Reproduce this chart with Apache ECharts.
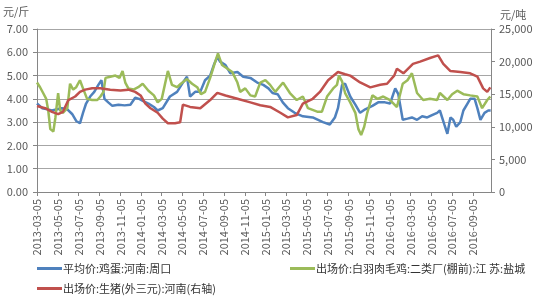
<!DOCTYPE html>
<html>
<head>
<meta charset="utf-8">
<script src="https://cdn.jsdelivr.net/npm/echarts@6/dist/echarts.min.js"></script>
<style>html,body{margin:0;padding:0;background:#fff}#c{width:550px;height:300px}</style>
</head>
<body>
<div id="c"></div>
<script>
const axisStart = '2013-03-05';
const axisEnd = '2016-10-27';
const tickLabels = ['2013-03-05','2013-05-05','2013-07-05','2013-09-05','2013-11-05','2014-01-05','2014-03-05','2014-05-05','2014-07-05','2014-09-05','2014-11-05','2015-01-05','2015-03-05','2015-05-05','2015-07-05','2015-09-05','2015-11-05','2016-01-05','2016-03-05','2016-05-05','2016-07-05','2016-09-05'];

const seriesNames = ['平均价:鸡蛋:河南:周口', '出场价:白羽肉毛鸡:二类厂(棚前):江 苏:盐城', '出场价:生猪(外三元):河南(右轴)'];

const eggDates = ['2013-03-05','2013-03-20','2013-04-05','2013-04-18','2013-05-03','2013-05-17','2013-06-02','2013-06-16','2013-06-28','2013-07-09','2013-07-18','2013-07-27','2013-08-08','2013-08-20','2013-09-01','2013-09-10','2013-09-19','2013-09-30','2013-10-12','2013-10-30','2013-11-17','2013-12-04','2013-12-18','2013-12-30','2014-01-11','2014-01-26','2014-02-11','2014-02-22','2014-03-09','2014-03-30','2014-04-20','2014-05-07','2014-05-19','2014-05-28','2014-06-12','2014-06-27','2014-07-11','2014-07-26','2014-08-07','2014-08-16','2014-08-24','2014-09-09','2014-09-23','2014-10-14','2014-10-31','2014-11-21','2014-12-11','2014-12-29','2015-01-13','2015-01-25','2015-02-09','2015-02-24','2015-03-11','2015-03-31','2015-04-24','2015-05-23','2015-06-22','2015-07-12','2015-07-27','2015-08-05','2015-08-17','2015-08-26','2015-09-10','2015-09-25','2015-10-09','2015-10-24','2015-11-14','2015-12-01','2015-12-21','2016-01-05','2016-01-20','2016-01-29','2016-02-11','2016-02-25','2016-03-09','2016-03-24','2016-04-08','2016-04-23','2016-05-07','2016-05-22','2016-05-30','2016-06-12','2016-06-21','2016-06-30','2016-07-08','2016-07-17','2016-07-29','2016-08-07','2016-08-19','2016-08-27','2016-09-09','2016-09-17','2016-09-26','2016-10-08','2016-10-19','2016-10-26'];
const eggValues = [3.8,3.6,3.55,3.5,3.55,3.6,3.55,3.35,3.05,2.95,3.4,3.8,4.1,4.3,4.6,4.8,4.0,3.85,3.7,3.75,3.72,3.75,4.05,4.0,3.9,3.8,3.65,3.5,3.6,4.1,4.3,4.7,4.95,4.1,4.3,4.3,4.8,5.0,5.5,5.8,5.6,5.45,5.1,5.15,4.95,4.9,4.7,4.6,4.45,4.25,4.2,3.85,3.6,3.4,3.25,3.2,3.0,2.9,3.2,3.6,4.6,4.65,4.1,3.75,3.4,3.55,3.7,3.85,3.85,3.8,4.45,4.2,3.1,3.15,3.2,3.1,3.25,3.2,3.3,3.4,3.5,2.9,2.5,3.2,3.1,2.8,3.0,3.5,3.8,4.0,4.0,3.6,3.1,3.4,3.5,3.5];

const broilerDates = ['2013-03-05','2013-03-14','2013-03-23','2013-04-01','2013-04-07','2013-04-13','2013-04-22','2013-04-28','2013-05-06','2013-05-12','2013-05-20','2013-06-02','2013-06-10','2013-06-19','2013-06-28','2013-07-09','2013-07-18','2013-07-30','2013-08-14','2013-08-29','2013-09-07','2013-09-16','2013-09-22','2013-10-06','2013-10-21','2013-11-02','2013-11-11','2013-11-19','2013-11-28','2013-12-13','2013-12-27','2014-01-09','2014-01-26','2014-02-11','2014-02-22','2014-03-06','2014-03-15','2014-03-24','2014-04-05','2014-04-20','2014-05-01','2014-05-19','2014-06-03','2014-06-18','2014-06-29','2014-07-11','2014-07-26','2014-08-10','2014-08-18','2014-08-30','2014-09-14','2014-09-29','2014-10-14','2014-10-22','2014-11-06','2014-11-21','2014-12-05','2014-12-20','2015-01-04','2015-01-18','2015-02-02','2015-02-25','2015-03-17','2015-04-06','2015-04-24','2015-05-09','2015-06-05','2015-06-19','2015-07-04','2015-07-22','2015-08-02','2015-08-08','2015-08-17','2015-08-26','2015-09-10','2015-09-25','2015-10-04','2015-10-12','2015-10-21','2015-10-30','2015-11-14','2015-11-29','2015-12-16','2016-01-05','2016-01-25','2016-02-11','2016-02-25','2016-03-09','2016-03-24','2016-04-11','2016-05-01','2016-05-22','2016-05-30','2016-06-21','2016-07-05','2016-07-20','2016-08-07','2016-08-27','2016-09-17','2016-10-01','2016-10-16','2016-10-25'];
const broilerValues = [4.7,4.5,4.25,4.0,3.5,2.7,2.6,3.2,4.25,3.5,3.4,3.6,4.65,4.4,4.5,4.8,4.45,4.0,3.95,3.95,4.1,4.3,4.9,4.95,5.0,4.9,5.2,4.7,4.45,4.4,4.5,4.65,4.35,4.15,3.85,4.0,4.6,5.2,4.6,4.5,4.65,4.85,4.65,4.5,4.2,4.3,4.9,5.6,5.95,5.45,5.3,5.15,4.7,4.3,4.45,4.15,4.1,4.7,4.8,4.6,4.3,4.7,4.25,3.95,4.1,3.6,3.45,3.45,4.1,4.45,4.6,5.0,4.75,4.25,3.85,3.4,2.7,2.45,2.8,3.4,4.15,4.0,4.1,3.95,3.65,4.65,4.8,5.1,4.25,3.95,4.0,3.95,4.25,3.95,4.2,4.35,4.2,4.15,4.1,3.6,3.95,4.1];

const hogDates = ['2013-03-05','2013-03-29','2013-04-18','2013-05-06','2013-05-20','2013-06-05','2013-06-25','2013-07-09','2013-07-24','2013-08-14','2013-09-07','2013-10-06','2013-11-05','2013-11-28','2013-12-18','2014-01-03','2014-01-17','2014-02-01','2014-02-22','2014-03-09','2014-03-24','2014-04-14','2014-04-29','2014-05-07','2014-05-28','2014-06-27','2014-07-26','2014-08-16','2014-09-09','2014-10-14','2014-11-21','2014-12-20','2015-01-18','2015-02-17','2015-03-11','2015-04-06','2015-04-24','2015-05-23','2015-06-13','2015-07-07','2015-08-05','2015-08-26','2015-09-10','2015-10-09','2015-11-08','2015-12-07','2015-12-27','2016-01-17','2016-01-25','2016-02-13','2016-03-12','2016-04-02','2016-05-01','2016-05-25','2016-06-09','2016-06-30','2016-07-29','2016-08-27','2016-09-17','2016-10-04','2016-10-16','2016-10-25'];
const hogValues = [13200,12850,12300,11950,12300,14100,14650,15350,15700,15900,15900,15700,15550,15700,15350,14800,13550,12850,12150,11250,10550,10550,10700,13400,13050,12850,14100,15200,14800,14300,13750,13300,13050,12150,11450,11800,13550,14300,15350,17150,18400,18050,17850,16800,16050,16450,16600,17850,18900,18200,19650,20000,20550,20950,19650,18550,18400,18200,17700,15900,15350,16050];

// build daily category axis
const categories = [];
(function () {
  const d = new Date(axisStart + 'T00:00:00Z');
  const end = new Date(axisEnd + 'T00:00:00Z');
  while (d <= end) { categories.push(d.toISOString().slice(0, 10)); d.setUTCDate(d.getUTCDate() + 1); }
})();
const catIndex = {};
categories.forEach((c, i) => { catIndex[c] = i; });
const labelSet = new Set(tickLabels);
const pair = (dates, vals) => dates.map((d, i) => [catIndex[d], vals[i]]);

const FONT = '"Noto Sans CJK SC", "Noto Sans", sans-serif';
const chart = echarts.init(document.getElementById('c'), null, { renderer: 'canvas' });
const legendBase = {
  icon: 'rect', itemWidth: 25, itemHeight: 3, padding: 0,
  textStyle: { fontFamily: FONT, fontSize: 11, color: '#333', padding: [0, 0, 0, -4] }
};
chart.setOption({
  animation: false,
  backgroundColor: '#fff',
  color: ['#4F81BD', '#9BBB59', '#C0504D'],
  grid: { left: 37, right: 59, top: 29, bottom: 108, outerBoundsMode: 'none', containLabel: false },
  legend: [
    Object.assign({}, legendBase, { data: [seriesNames[0]], left: 37, top: 263 }),
    Object.assign({}, legendBase, { data: [seriesNames[1]], left: 290, top: 263 }),
    Object.assign({}, legendBase, { data: [seriesNames[2]], left: 37, top: 283 })
  ],
  graphic: [
    { type: 'text', left: 3, top: 6, style: { text: '元/斤', font: '11px ' + FONT, fill: '#595959' } },
    { type: 'text', left: 500, top: 9, style: { text: '元/吨', font: '11px ' + FONT, fill: '#595959' } }
  ],
  xAxis: {
    type: 'category',
    data: categories,
    boundaryGap: false,
    axisLine: { show: true, lineStyle: { color: '#868686', width: 1 } },
    axisTick: { show: true, length: 4, inside: false, interval: (i, v) => labelSet.has(v), lineStyle: { color: '#868686' } },
    axisLabel: { interval: (i, v) => labelSet.has(v), rotate: 90, margin: 7, fontFamily: FONT, fontSize: 11, color: '#595959' },
    splitLine: { show: false }
  },
  yAxis: [
    {
      type: 'value', min: 0, max: 7, interval: 1,
      axisLine: { show: true, lineStyle: { color: '#868686' } },
      axisTick: { show: true, length: 4, lineStyle: { color: '#868686' } },
      axisLabel: { formatter: v => v.toFixed(2), margin: 9, fontFamily: FONT, fontSize: 11, color: '#595959' },
      splitLine: { show: true, lineStyle: { color: '#a6a6a6', width: 1 } }
    },
    {
      type: 'value', min: 0, max: 25000, interval: 5000, position: 'right',
      axisLine: { show: true, lineStyle: { color: '#868686' } },
      axisTick: { show: true, length: 4, lineStyle: { color: '#868686' } },
      axisLabel: { formatter: v => v.toLocaleString('en-US'), margin: 8, fontFamily: FONT, fontSize: 11, color: '#595959' },
      splitLine: { show: false }
    }
  ],
  series: [
    { name: seriesNames[0], type: 'line', yAxisIndex: 0, data: pair(eggDates, eggValues), showSymbol: false, lineStyle: { width: 2.5 } },
    { name: seriesNames[1], type: 'line', yAxisIndex: 0, data: pair(broilerDates, broilerValues), showSymbol: false, lineStyle: { width: 2.5 } },
    { name: seriesNames[2], type: 'line', yAxisIndex: 1, data: pair(hogDates, hogValues), showSymbol: false, lineStyle: { width: 2.5 } }
  ]
});
</script>
</body>
</html>
